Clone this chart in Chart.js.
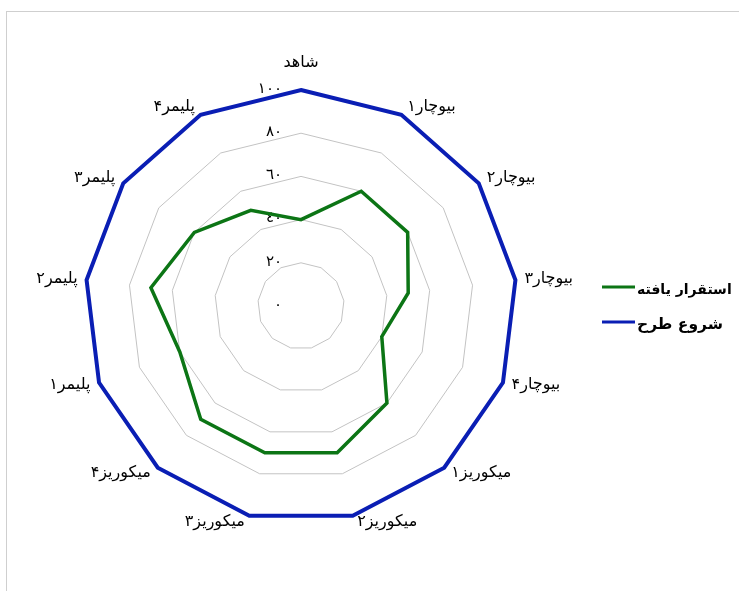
<!DOCTYPE html>
<html lang="fa">
<head>
<meta charset="utf-8">
<title>نمودار راداری استقرار</title>
<script src="https://cdn.jsdelivr.net/npm/chart.js@4.4.1/dist/chart.umd.min.js"></script>
<style>
  html, body { margin: 0; padding: 0; background: #ffffff; }
  #wrap { position: relative; width: 739px; height: 591px; overflow: hidden; }
  #frame { position: absolute; left: 6px; top: 11px; width: 760px; height: 600px;
           border-left: 1px solid #cfcfcf; border-top: 1px solid #cfcfcf; }
  #chart { position: absolute; left: 0; top: 0; }
</style>
</head>
<body>
<div id="wrap">
  <div id="frame"></div>
  <canvas id="chart" width="739" height="591"></canvas>
</div>
<script>
// Treatments around the radar
const categories = ['شاهد', 'بیوچار۱', 'بیوچار۲', 'بیوچار۳', 'بیوچار۴',
  'میکوریز۱', 'میکوریز۲', 'میکوریز۳', 'میکوریز۴',
  'پلیمر۱', 'پلیمر۲', 'پلیمر۳', 'پلیمر۴'];

// Share of seedlings established (percent)
const establishedValues = [40, 60, 60, 50, 40, 60, 70, 70, 70, 60, 70, 60, 50];
// Number planted at the start of the project (percent)
const startValues = [100, 100, 100, 100, 100, 100, 100, 100, 100, 100, 100, 100, 100];

const seriesNames = ['استقرار یافته', 'شروع طرح'];
const seriesColors = ['#0c7515', '#0a1eb4'];

// Radial axis ticks
const tickValues = [0, 20, 40, 60, 80, 100];
const tickLabels = ['٠', '٢٠', '٤٠', '٦٠', '٨٠', '١٠٠'];

const FONT = "'DejaVu Sans', sans-serif";

// Draws the radial tick labels, category labels and the legend as canvas text
const radarText = {
  id: 'radarText',
  beforeDatasetsDraw(chart) {
    const r = chart.scales.r;
    const ctx = chart.ctx;
    ctx.save();
    ctx.font = '15px ' + FONT;
    ctx.fillStyle = '#000000';
    ctx.textAlign = 'right';
    ctx.textBaseline = 'middle';
    tickValues.forEach((v, i) => {
      const d = r.getDistanceFromCenterForValue(v);
      ctx.fillText(tickLabels[i], r.xCenter - 19, r.yCenter - d - 1);
    });
    ctx.restore();
  },
  afterDraw(chart) {
    const r = chart.scales.r;
    const ctx = chart.ctx;
    ctx.save();
    ctx.font = '16px ' + FONT;
    ctx.fillStyle = '#000000';
    ctx.textBaseline = 'middle';
    categories.forEach((label, i) => {
      const p = r.getPointPosition(i, r.drawingArea);
      const a = r.getIndexAngle(i);
      const s = Math.sin(a), c = Math.cos(a);
      if (Math.abs(s) < 0.05) {
        ctx.textAlign = 'center';
        ctx.fillText(label, p.x, p.y - 27);
        return;
      }
      const gap = 3 + 6 * Math.abs(s);
      const dy = c > 0 ? -9 * c : -6.5 * c;
      ctx.textAlign = s > 0 ? 'left' : 'right';
      ctx.fillText(label, p.x + (s > 0 ? gap : -gap), p.y + dy);
    });

    // legend
    const legendYs = [287, 322];
    ctx.textAlign = 'left';
    chart.data.datasets.forEach((ds, i) => {
      const y = legendYs[i];
      ctx.strokeStyle = ds.borderColor;
      ctx.lineWidth = 3;
      ctx.beginPath();
      ctx.moveTo(602, y);
      ctx.lineTo(635, y);
      ctx.stroke();
      ctx.font = (i === 0 ? 'bold 14px ' : 'bold 15.5px ') + FONT;
      ctx.fillText(ds.label, 637, y + 3);
    });
    ctx.restore();
  }
};

new Chart(document.getElementById('chart'), {
  type: 'radar',
  data: {
    labels: categories,
    datasets: [
      {
        label: seriesNames[0],
        data: establishedValues,
        borderColor: seriesColors[0],
        borderWidth: 3.5,
        fill: false,
        pointRadius: 0,
        pointHoverRadius: 0,
        tension: 0,
        clip: false,
        borderJoinStyle: 'miter'
      },
      {
        label: seriesNames[1],
        data: startValues,
        borderColor: seriesColors[1],
        borderWidth: 4,
        fill: false,
        pointRadius: 0,
        pointHoverRadius: 0,
        tension: 0,
        clip: false,
        borderJoinStyle: 'miter'
      }
    ]
  },
  options: {
    responsive: false,
    animation: false,
    layout: { padding: { left: 85, top: 90, right: 221, bottom: 68 } },
    plugins: {
      legend: { display: false },
      tooltip: { enabled: false }
    },
    scales: {
      r: {
        min: 0,
        max: 100,
        ticks: { stepSize: 20, display: false },
        grid: { color: '#c3c3c3', lineWidth: 1 },
        angleLines: { display: false },
        pointLabels: { display: false }
      }
    }
  },
  plugins: [radarText]
});
</script>
</body>
</html>
